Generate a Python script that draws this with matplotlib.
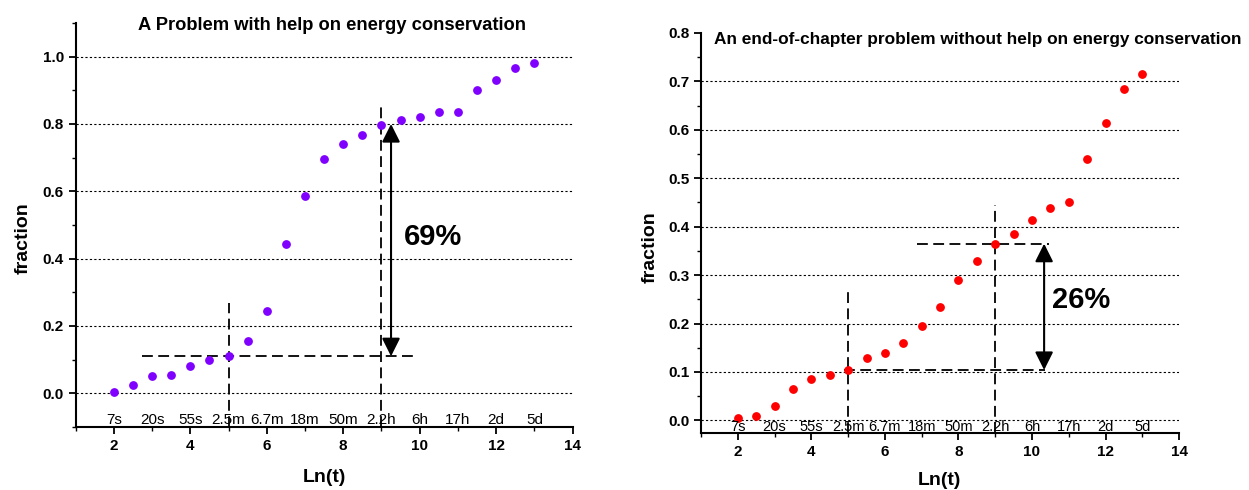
import numpy as np
import matplotlib.pyplot as plt
from matplotlib.ticker import MultipleLocator

plt.rcParams['font.family'] = ['Liberation Sans', 'DejaVu Sans']

# data
ln_t = np.arange(2, 13.5, 0.5)
frac_help = [0.005, 0.025, 0.05, 0.055, 0.08, 0.10, 0.11, 0.155, 0.245, 0.445,
             0.585, 0.695, 0.74, 0.766, 0.797, 0.812, 0.821, 0.837, 0.837,
             0.901, 0.931, 0.966, 0.98]
frac_nohelp = [0.005, 0.01, 0.03, 0.065, 0.085, 0.094, 0.105, 0.129, 0.14, 0.16,
               0.195, 0.235, 0.289, 0.33, 0.364, 0.384, 0.414, 0.439, 0.45,
               0.539, 0.614, 0.684, 0.715]
time_pos = [2, 3, 4, 5, 6, 7, 8, 9, 10, 11, 12, 13]
time_labels = ['7s', '20s', '55s', '2.5m', '6.7m', '18m', '50m', '2.2h', '6h',
               '17h', '2d', '5d']

fig = plt.figure(figsize=(12.49, 4.9), dpi=100)
ax1 = fig.add_axes([0.0605, 0.1286, 0.398, 0.8245])
ax2 = fig.add_axes([0.5613, 0.1163, 0.3827, 0.8164])


def style(ax, ylim, major, minor, grid_vals):
    ax.set_xlim(1, 14)
    ax.set_ylim(*ylim)
    for s in ['top', 'right']:
        ax.spines[s].set_visible(False)
    for s in ['left', 'bottom']:
        ax.spines[s].set_linewidth(1.5)
    ax.xaxis.set_major_locator(MultipleLocator(2))
    ax.xaxis.set_minor_locator(MultipleLocator(1))
    ax.yaxis.set_major_locator(MultipleLocator(major))
    ax.yaxis.set_minor_locator(MultipleLocator(minor))
    ax.tick_params(which='major', length=5, width=1.3, labelsize=11)
    ax.tick_params(which='minor', length=3, width=1.0)
    for lab in ax.get_xticklabels() + ax.get_yticklabels():
        lab.set_fontweight('bold')
    for g in grid_vals:
        ax.axhline(g, color='black', lw=0.8, ls=(0, (2, 2)), zorder=1)


dash = (0, (6, 3))
arrow = dict(arrowstyle='<|-|>,head_length=1.1,head_width=0.55',
             color='black', lw=1.5, mutation_scale=10, shrinkA=0, shrinkB=0)

# left chart
style(ax1, (-0.1, 1.1), 0.2, 0.1, [0.0, 0.2, 0.4, 0.6, 0.8, 1.0])
ax1.yaxis.set_major_formatter('{x:.1f}')
ax1.scatter(ln_t, frac_help, s=28, color='#8000ff', zorder=3)
ax1.plot([5, 5], [-0.1, 0.268], color='black', lw=1.3, ls=dash)
ax1.plot([9, 9], [-0.1, 0.851], color='black', lw=1.3, ls=dash)
ax1.plot([2.74, 9.96], [0.11, 0.11], color='black', lw=1.3, ls=dash)
ax1.annotate('', xy=(9.25, 0.80), xytext=(9.25, 0.11), arrowprops=arrow)
ax1.text(10.35, 0.464, '69%', fontsize=21, fontweight='bold', ha='center', va='center')
for p, t in zip(time_pos, time_labels):
    ax1.text(p, -0.08, t, fontsize=11, ha='center', va='center')
ax1.text(0.515, 0.995, 'A Problem with help on energy conservation', transform=ax1.transAxes,
         fontsize=13.2, fontweight='bold', ha='center', va='center')
ax1.text(-0.106, 0.468, 'fraction', transform=ax1.transAxes, rotation=90,
         fontsize=14, fontweight='bold', ha='center', va='center')
ax1.text(0.5, -0.124, 'Ln(t)', transform=ax1.transAxes,
         fontsize=14, fontweight='bold', ha='center', va='center')

# right chart
style(ax2, (-0.026, 0.8), 0.1, 0.05, [0.0, 0.1, 0.2, 0.3, 0.4, 0.5, 0.6, 0.7])
ax2.yaxis.set_major_formatter('{x:.1f}')
ax2.scatter(ln_t, frac_nohelp, s=28, color='#ff0000', zorder=3)
ax2.plot([5, 5], [-0.026, 0.273], color='black', lw=1.3, ls=dash)
ax2.plot([9, 9], [-0.026, 0.445], color='black', lw=1.3, ls=dash)
ax2.plot([4.9, 10.35], [0.104, 0.104], color='black', lw=1.3, ls=dash)
ax2.plot([6.86, 10.45], [0.365, 0.365], color='black', lw=1.3, ls=dash)
ax2.annotate('', xy=(10.33, 0.365), xytext=(10.33, 0.104), arrowprops=arrow)
ax2.text(11.35, 0.249, '26%', fontsize=21, fontweight='bold', ha='center', va='center')
for p, t in zip(time_pos, time_labels):
    ax2.text(p, -0.013, t, fontsize=10.5, ha='center', va='center')
ax2.text(0.027, 0.9825, 'An end-of-chapter problem without help on energy conservation',
         transform=ax2.transAxes, fontsize=12.4, fontweight='bold', ha='left', va='center')
ax2.text(-0.107, 0.465, 'fraction', transform=ax2.transAxes, rotation=90,
         fontsize=14, fontweight='bold', ha='center', va='center')
ax2.text(0.498, -0.1175, 'Ln(t)', transform=ax2.transAxes,
         fontsize=14, fontweight='bold', ha='center', va='center')

fig.savefig('out.png', dpi=100)
